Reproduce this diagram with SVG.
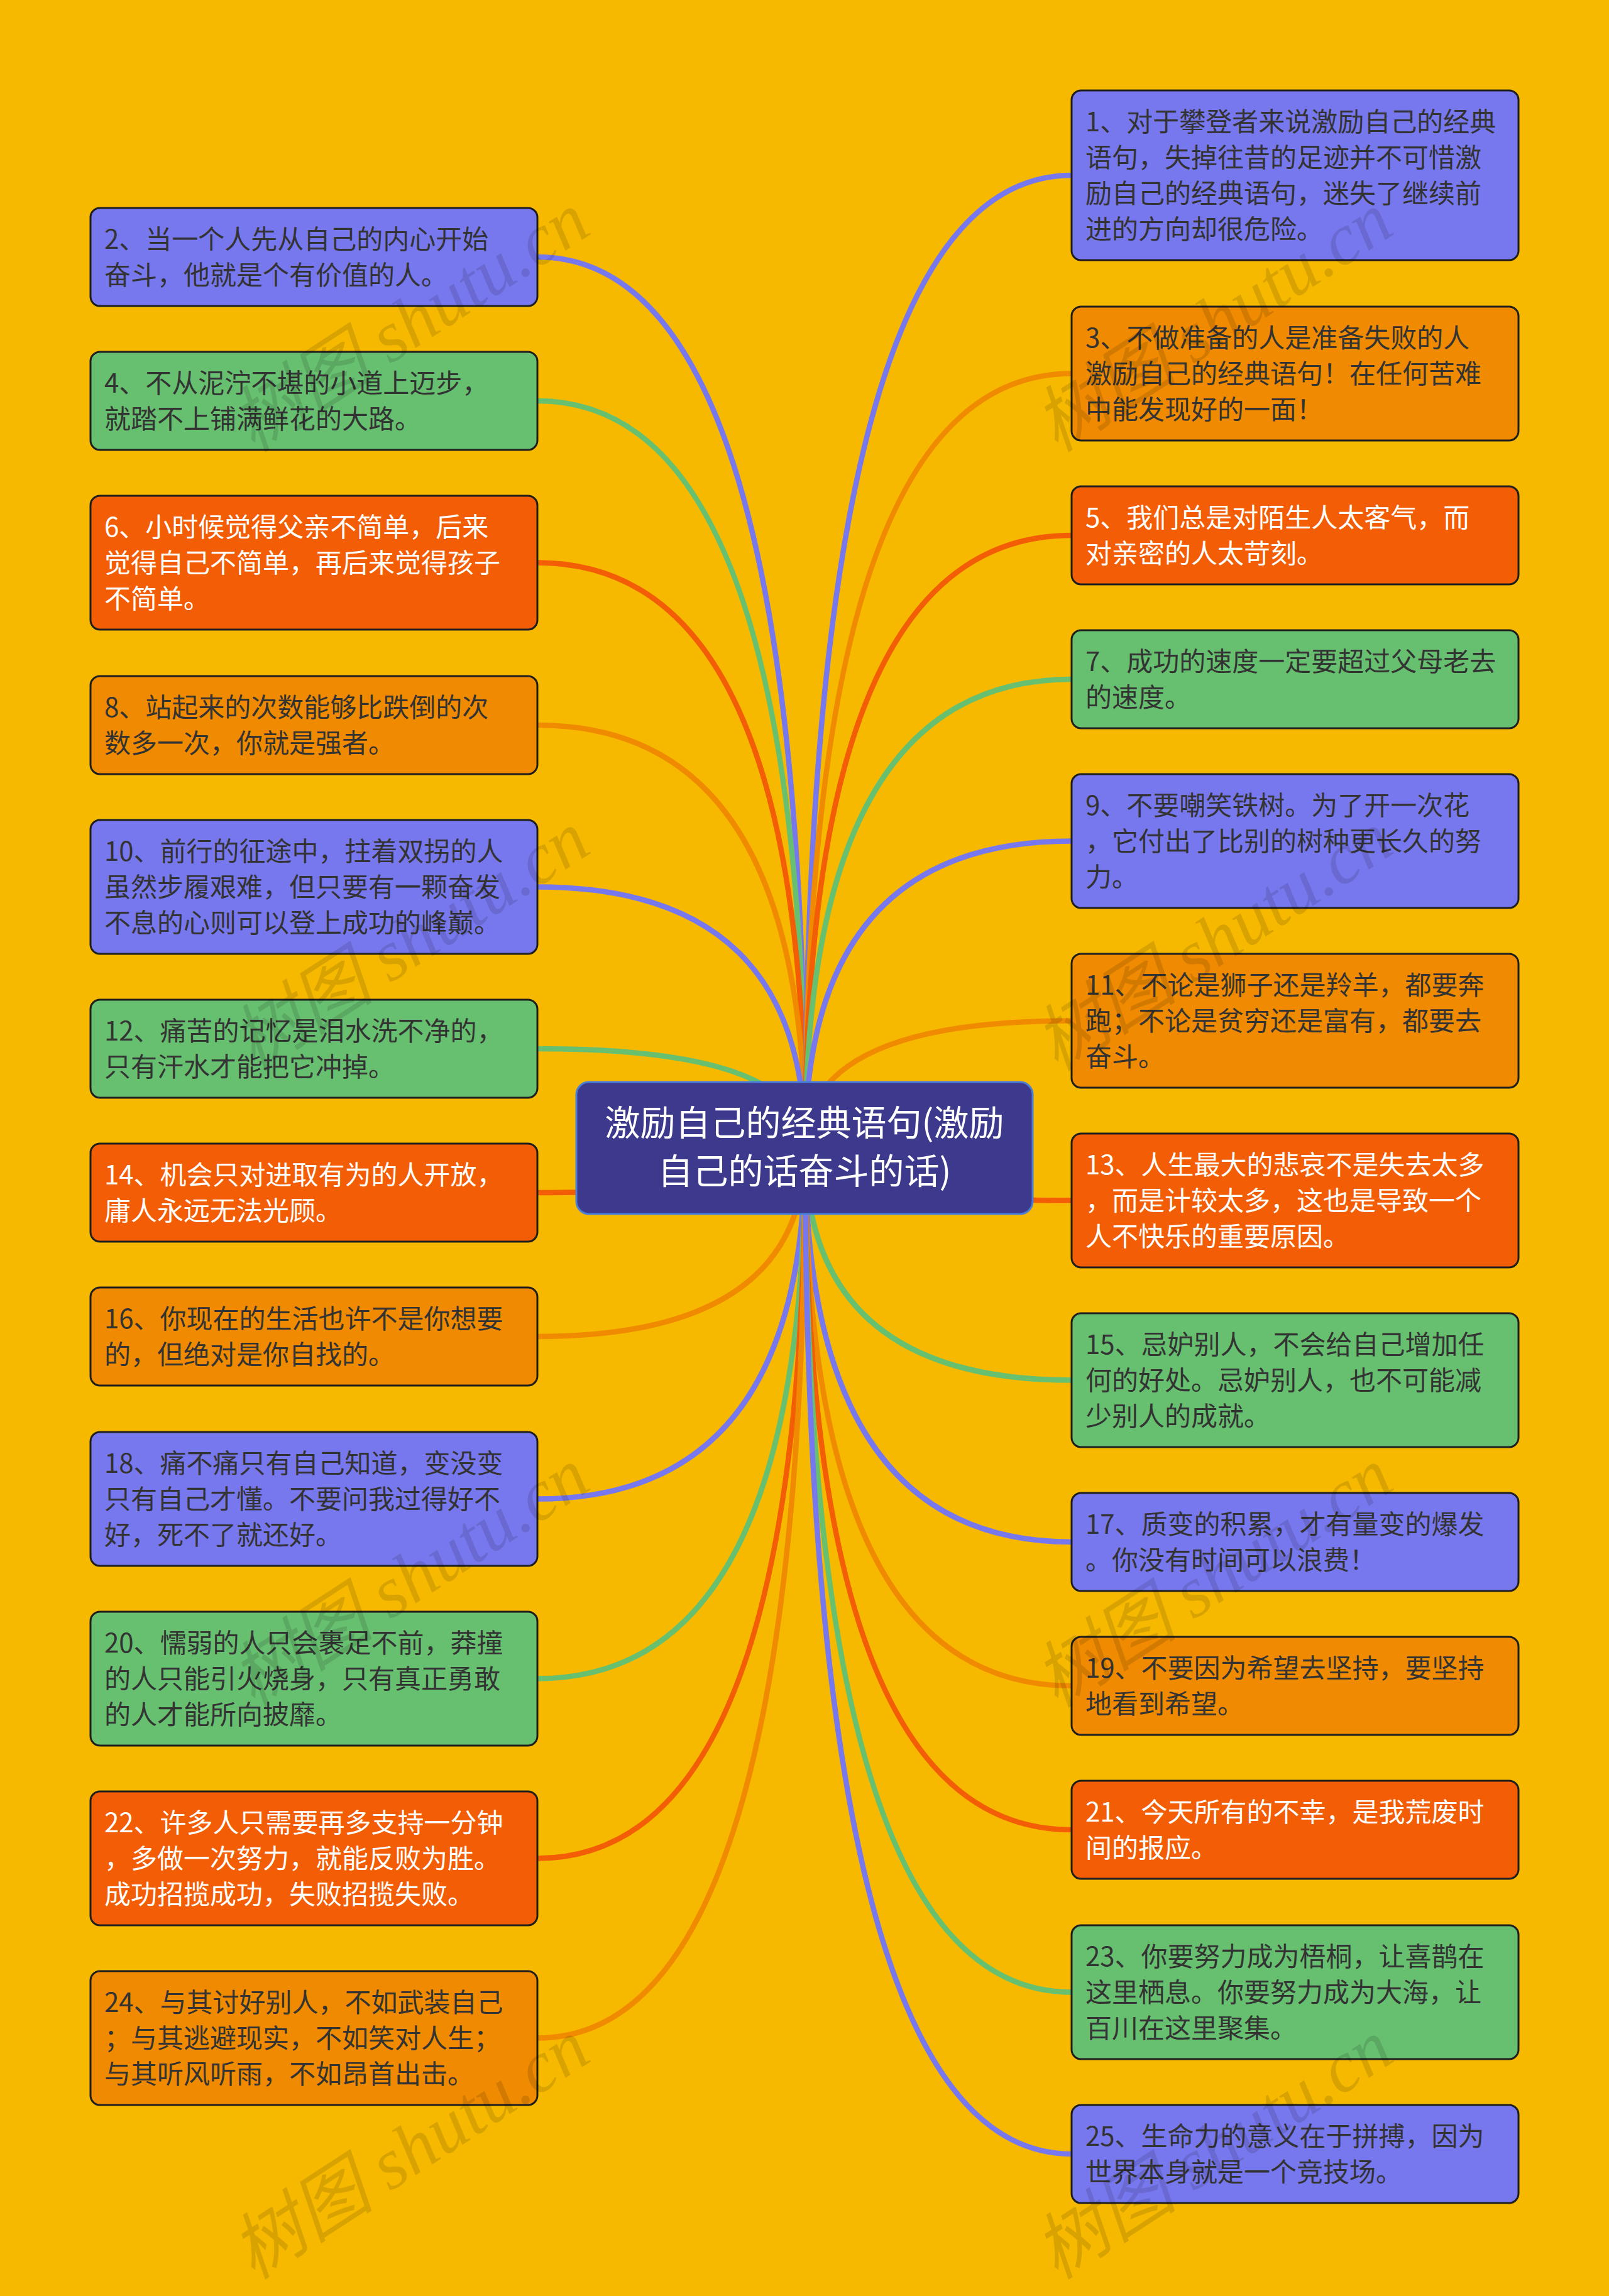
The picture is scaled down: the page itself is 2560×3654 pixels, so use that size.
<svg xmlns="http://www.w3.org/2000/svg" width="2560" height="3654" viewBox="0 0 2560 3654">
<style>
.bg{fill:#F6B900}
.n rect{stroke:#1e1e1e;stroke-width:3}
.blue rect{fill:#7878EE}
.green rect{fill:#67C06F}
.red rect{fill:#F25D05}
.orange rect{fill:#F08A00}
.n text{font-family:"Noto Sans CJK SC","Noto Sans",sans-serif;font-size:42px;fill:#333333}
.red text{fill:#FFFFFF}
.c{fill:none;stroke-width:8.5;stroke-linecap:round}
.cb{stroke:#7878EE}.cg{stroke:#67C06F}.cr{stroke:#F25D05}.co{stroke:#F08A00}
.root rect{fill:#3D3A8D;stroke:#4A7FD8;stroke-width:3}
.root text{font-family:"Noto Sans CJK SC","Noto Sans",sans-serif;font-size:56px;fill:#FFFFFF;text-anchor:middle}
.wm{font-family:"Liberation Serif","Noto Sans CJK SC",serif;font-style:italic;font-size:115px;fill:#000000;fill-opacity:0.12;text-anchor:middle}
</style>
<rect class="bg" x="0" y="0" width="2560" height="3654"/>
<g id="connectors">
<path class="c cb" d="M1281,1826 Q1281,409 855,409"/>
<path class="c cg" d="M1281,1826 Q1281,638 855,638"/>
<path class="c cr" d="M1281,1826 Q1281,895.5 855,895.5"/>
<path class="c co" d="M1281,1826 Q1281,1154 855,1154"/>
<path class="c cb" d="M1281,1826 Q1281,1411.5 855,1411.5"/>
<path class="c cg" d="M1281,1826 Q1281,1669 855,1669"/>
<path class="c cr" d="M1281,1826 Q1281,1898 855,1898"/>
<path class="c co" d="M1281,1826 Q1281,2127 855,2127"/>
<path class="c cb" d="M1281,1826 Q1281,2385.5 855,2385.5"/>
<path class="c cg" d="M1281,1826 Q1281,2671.5 855,2671.5"/>
<path class="c cr" d="M1281,1826 Q1281,2957.5 855,2957.5"/>
<path class="c co" d="M1281,1826 Q1281,3243.5 855,3243.5"/>
<path class="c cb" d="M1281,1826 Q1281,279 1705,279"/>
<path class="c co" d="M1281,1826 Q1281,594.5 1705,594.5"/>
<path class="c cr" d="M1281,1826 Q1281,852 1705,852"/>
<path class="c cg" d="M1281,1826 Q1281,1081 1705,1081"/>
<path class="c cb" d="M1281,1826 Q1281,1338.5 1705,1338.5"/>
<path class="c co" d="M1281,1826 Q1281,1624.5 1705,1624.5"/>
<path class="c cr" d="M1281,1826 Q1281,1910.5 1705,1910.5"/>
<path class="c cg" d="M1281,1826 Q1281,2196.5 1705,2196.5"/>
<path class="c cb" d="M1281,1826 Q1281,2454 1705,2454"/>
<path class="c co" d="M1281,1826 Q1281,2683 1705,2683"/>
<path class="c cr" d="M1281,1826 Q1281,2912 1705,2912"/>
<path class="c cg" d="M1281,1826 Q1281,3170.5 1705,3170.5"/>
<path class="c cb" d="M1281,1826 Q1281,3428 1705,3428"/>
</g>
<g id="root" class="root">
<rect x="917" y="1722" width="726" height="210" rx="20"/>
<text x="1280" y="1807">激励自己的经典语句(激励</text>
<text x="1280" y="1884">自己的话奋斗的话)</text>
</g>
<g id="n2" class="n blue"><rect x="144" y="331" width="711" height="156" rx="15"/>
<text x="166" y="395.5"><tspan x="166">2、当一个人先从自己的内心开始</tspan><tspan x="166" dy="57">奋斗，他就是个有价值的人。</tspan></text></g>
<g id="n4" class="n green"><rect x="144" y="560" width="711" height="156" rx="15"/>
<text x="166" y="624.5"><tspan x="166">4、不从泥泞不堪的小道上迈步，</tspan><tspan x="166" dy="57">就踏不上铺满鲜花的大路。</tspan></text></g>
<g id="n6" class="n red"><rect x="144" y="789" width="711" height="213" rx="15"/>
<text x="166" y="853.5"><tspan x="166">6、小时候觉得父亲不简单，后来</tspan><tspan x="166" dy="57">觉得自己不简单，再后来觉得孩子</tspan><tspan x="166" dy="57">不简单。</tspan></text></g>
<g id="n8" class="n orange"><rect x="144" y="1076" width="711" height="156" rx="15"/>
<text x="166" y="1140.5"><tspan x="166">8、站起来的次数能够比跌倒的次</tspan><tspan x="166" dy="57">数多一次，你就是强者。</tspan></text></g>
<g id="n10" class="n blue"><rect x="144" y="1305" width="711" height="213" rx="15"/>
<text x="166" y="1369.5"><tspan x="166">10、前行的征途中，拄着双拐的人</tspan><tspan x="166" dy="57">虽然步履艰难，但只要有一颗奋发</tspan><tspan x="166" dy="57">不息的心则可以登上成功的峰巅。</tspan></text></g>
<g id="n12" class="n green"><rect x="144" y="1591" width="711" height="156" rx="15"/>
<text x="166" y="1655.5"><tspan x="166">12、痛苦的记忆是泪水洗不净的，</tspan><tspan x="166" dy="57">只有汗水才能把它冲掉。</tspan></text></g>
<g id="n14" class="n red"><rect x="144" y="1820" width="711" height="156" rx="15"/>
<text x="166" y="1884.5"><tspan x="166">14、机会只对进取有为的人开放，</tspan><tspan x="166" dy="57">庸人永远无法光顾。</tspan></text></g>
<g id="n16" class="n orange"><rect x="144" y="2049" width="711" height="156" rx="15"/>
<text x="166" y="2113.5"><tspan x="166">16、你现在的生活也许不是你想要</tspan><tspan x="166" dy="57">的，但绝对是你自找的。</tspan></text></g>
<g id="n18" class="n blue"><rect x="144" y="2279" width="711" height="213" rx="15"/>
<text x="166" y="2343.5"><tspan x="166">18、痛不痛只有自己知道，变没变</tspan><tspan x="166" dy="57">只有自己才懂。不要问我过得好不</tspan><tspan x="166" dy="57">好，死不了就还好。</tspan></text></g>
<g id="n20" class="n green"><rect x="144" y="2565" width="711" height="213" rx="15"/>
<text x="166" y="2629.5"><tspan x="166">20、懦弱的人只会裹足不前，莽撞</tspan><tspan x="166" dy="57">的人只能引火烧身，只有真正勇敢</tspan><tspan x="166" dy="57">的人才能所向披靡。</tspan></text></g>
<g id="n22" class="n red"><rect x="144" y="2851" width="711" height="213" rx="15"/>
<text x="166" y="2915.5"><tspan x="166">22、许多人只需要再多支持一分钟</tspan><tspan x="166" dy="57">，多做一次努力，就能反败为胜。</tspan><tspan x="166" dy="57">成功招揽成功，失败招揽失败。</tspan></text></g>
<g id="n24" class="n orange"><rect x="144" y="3137" width="711" height="213" rx="15"/>
<text x="166" y="3201.5"><tspan x="166">24、与其讨好别人，不如武装自己</tspan><tspan x="166" dy="57">；与其逃避现实，不如笑对人生；</tspan><tspan x="166" dy="57">与其听风听雨，不如昂首出击。</tspan></text></g>
<g id="n1" class="n blue"><rect x="1705" y="144" width="711" height="270" rx="15"/>
<text x="1727" y="208.5"><tspan x="1727">1、对于攀登者来说激励自己的经典</tspan><tspan x="1727" dy="57">语句，失掉往昔的足迹并不可惜激</tspan><tspan x="1727" dy="57">励自己的经典语句，迷失了继续前</tspan><tspan x="1727" dy="57">进的方向却很危险。</tspan></text></g>
<g id="n3" class="n orange"><rect x="1705" y="488" width="711" height="213" rx="15"/>
<text x="1727" y="552.5"><tspan x="1727">3、不做准备的人是准备失败的人</tspan><tspan x="1727" dy="57">激励自己的经典语句！在任何苦难</tspan><tspan x="1727" dy="57">中能发现好的一面！</tspan></text></g>
<g id="n5" class="n red"><rect x="1705" y="774" width="711" height="156" rx="15"/>
<text x="1727" y="838.5"><tspan x="1727">5、我们总是对陌生人太客气，而</tspan><tspan x="1727" dy="57">对亲密的人太苛刻。</tspan></text></g>
<g id="n7" class="n green"><rect x="1705" y="1003" width="711" height="156" rx="15"/>
<text x="1727" y="1067.5"><tspan x="1727">7、成功的速度一定要超过父母老去</tspan><tspan x="1727" dy="57">的速度。</tspan></text></g>
<g id="n9" class="n blue"><rect x="1705" y="1232" width="711" height="213" rx="15"/>
<text x="1727" y="1296.5"><tspan x="1727">9、不要嘲笑铁树。为了开一次花</tspan><tspan x="1727" dy="57">，它付出了比别的树种更长久的努</tspan><tspan x="1727" dy="57">力。</tspan></text></g>
<g id="n11" class="n orange"><rect x="1705" y="1518" width="711" height="213" rx="15"/>
<text x="1727" y="1582.5"><tspan x="1727">11、不论是狮子还是羚羊，都要奔</tspan><tspan x="1727" dy="57">跑；不论是贫穷还是富有，都要去</tspan><tspan x="1727" dy="57">奋斗。</tspan></text></g>
<g id="n13" class="n red"><rect x="1705" y="1804" width="711" height="213" rx="15"/>
<text x="1727" y="1868.5"><tspan x="1727">13、人生最大的悲哀不是失去太多</tspan><tspan x="1727" dy="57">，而是计较太多，这也是导致一个</tspan><tspan x="1727" dy="57">人不快乐的重要原因。</tspan></text></g>
<g id="n15" class="n green"><rect x="1705" y="2090" width="711" height="213" rx="15"/>
<text x="1727" y="2154.5"><tspan x="1727">15、忌妒别人，不会给自己增加任</tspan><tspan x="1727" dy="57">何的好处。忌妒别人，也不可能减</tspan><tspan x="1727" dy="57">少别人的成就。</tspan></text></g>
<g id="n17" class="n blue"><rect x="1705" y="2376" width="711" height="156" rx="15"/>
<text x="1727" y="2440.5"><tspan x="1727">17、质变的积累，才有量变的爆发</tspan><tspan x="1727" dy="57">。你没有时间可以浪费！</tspan></text></g>
<g id="n19" class="n orange"><rect x="1705" y="2605" width="711" height="156" rx="15"/>
<text x="1727" y="2669.5"><tspan x="1727">19、不要因为希望去坚持，要坚持</tspan><tspan x="1727" dy="57">地看到希望。</tspan></text></g>
<g id="n21" class="n red"><rect x="1705" y="2834" width="711" height="156" rx="15"/>
<text x="1727" y="2898.5"><tspan x="1727">21、今天所有的不幸，是我荒废时</tspan><tspan x="1727" dy="57">间的报应。</tspan></text></g>
<g id="n23" class="n green"><rect x="1705" y="3064" width="711" height="213" rx="15"/>
<text x="1727" y="3128.5"><tspan x="1727">23、你要努力成为梧桐，让喜鹊在</tspan><tspan x="1727" dy="57">这里栖息。你要努力成为大海，让</tspan><tspan x="1727" dy="57">百川在这里聚集。</tspan></text></g>
<g id="n25" class="n blue"><rect x="1705" y="3350" width="711" height="156" rx="15"/>
<text x="1727" y="3414.5"><tspan x="1727">25、生命力的意义在于拼搏，因为</tspan><tspan x="1727" dy="57">世界本身就是一个竞技场。</tspan></text></g>
<g id="watermarks">
<text class="wm" x="652" y="552" transform="rotate(-33 652 512)">树图 shutu.cn</text>
<text class="wm" x="652" y="1537" transform="rotate(-33 652 1497)">树图 shutu.cn</text>
<text class="wm" x="652" y="2550" transform="rotate(-33 652 2510)">树图 shutu.cn</text>
<text class="wm" x="652" y="3460" transform="rotate(-33 652 3420)">树图 shutu.cn</text>
<text class="wm" x="1930" y="552" transform="rotate(-33 1930 512)">树图 shutu.cn</text>
<text class="wm" x="1930" y="1537" transform="rotate(-33 1930 1497)">树图 shutu.cn</text>
<text class="wm" x="1930" y="2550" transform="rotate(-33 1930 2510)">树图 shutu.cn</text>
<text class="wm" x="1930" y="3460" transform="rotate(-33 1930 3420)">树图 shutu.cn</text>
</g>
</svg>
